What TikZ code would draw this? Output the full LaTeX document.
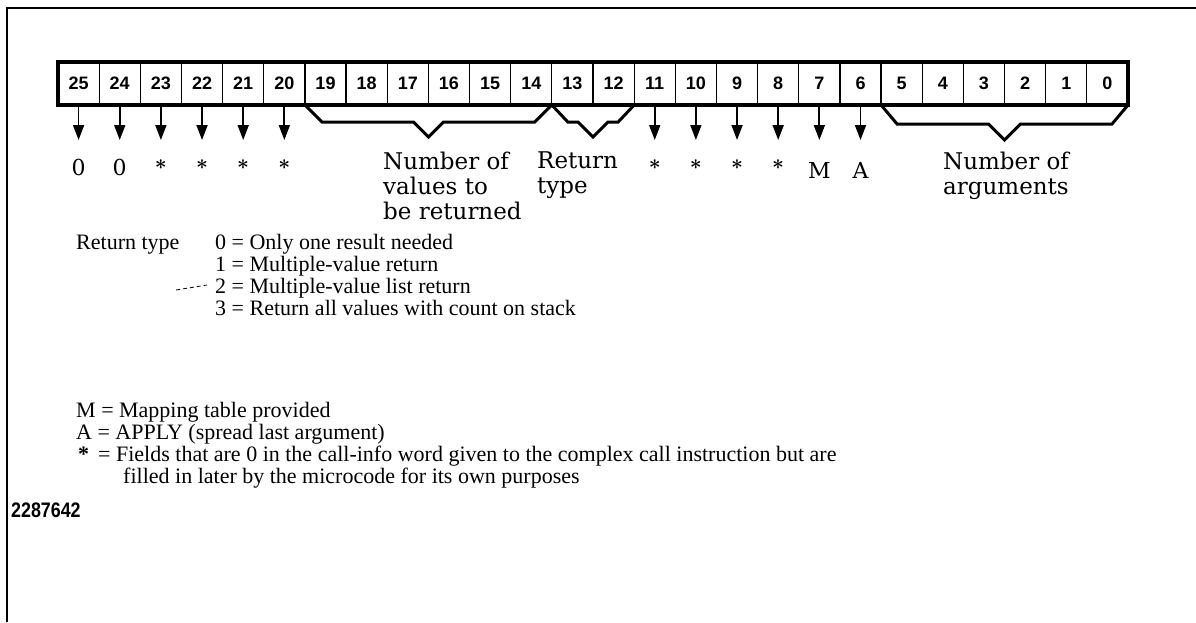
\documentclass[tikz,border=0pt]{standalone}
\usepackage{fontspec}
\setmainfont{Liberation Serif}
\newfontfamily\bitfont{Liberation Sans}
\newfontfamily\fieldfont{DejaVu Serif}
\newfontfamily\codefont{Liberation Sans}[FakeStretch=0.85]
\usetikzlibrary{arrows.meta,calc}

\tikzset{
  cell/.style={draw, line width=1.2pt, minimum width=41.154pt, minimum height=43pt,
    inner sep=0pt, outer sep=0pt, font=\bitfont\bfseries\fontsize{18}{18}\selectfont},
  bitarrow/.style={line width=1.8pt, -{Triangle[width=11pt,length=15pt]}},
  brace/.style={line width=3pt, line join=miter},
  fieldlabel/.style={inner sep=0pt, font=\fieldfont\fontsize{23}{25}\selectfont, align=left},
  bitvalue/.style={inner sep=0pt, font=\fieldfont\fontsize{22}{22}\selectfont},
  bitstar/.style={inner sep=0pt, font=\boldmath\fontsize{21}{21}\selectfont},
  legend/.style={inner sep=0pt, font=\fontsize{22}{22}\selectfont, anchor=base west},
}

\begin{document}
\begin{tikzpicture}[x=1pt, y=-1pt]
\useasboundingbox (0,0) rectangle (1196,622);

% page frame: top rule and left rule
\draw[line width=2pt] (7,622) -- (7,8) -- (1196,8);

% the 26-bit word
\foreach \b in {0,...,25} {
  \node[cell] (c\b) at ({58+(25.5-\b)*41.154},83.5) {\b};
}
\draw[line width=3.5pt] (c25.north west) rectangle (c0.south east);

% single-bit fields
\foreach \b in {25,24,23,22,21,20,11,10,9,8,7,6} {
  \coordinate (t\b) at ($(c\b.south)+(0,35)$);
  \draw[bitarrow] (c\b.south) -- (t\b);
}
\node[bitvalue] (v25) at ($(c25.south)+(0,62)$) {0};
\node[bitvalue] (v24) at ($(c24.south)+(0,62)$) {0};
\foreach \b in {23,22,21,20,11,10,9,8} {
  \node[bitstar] (v\b) at ($(c\b.south)+(0,60)$) {$\ast$};
}
\node[bitvalue] (v7) at ($(c7.south)+(0,65)$) {M};
\node[bitvalue] (v6) at ($(c6.south)+(0,65)$) {A};

% multi-bit fields
\draw[brace] (c19.south west) -- ++(17,17)
  -- ($(c17.south east)+(-15,17)$) -- ($(c17.south east)+(0,32)$)
  -- ($(c17.south east)+(15,17)$) -- ($(c14.south east)+(-17,17)$)
  -- (c14.south east);
\draw[brace] (c13.south west) -- ++(16,17)
  -- ($(c13.south east)+(-15,17)$) -- ($(c13.south east)+(0,32)$)
  -- ($(c13.south east)+(15,17)$) -- ($(c12.south east)+(-16,17)$)
  -- (c12.south east);
\draw[brace] (c5.south west) -- ++(16,19)
  -- ($(c3.south east)+(-16,19)$) -- ($(c3.south east)+(0,35)$)
  -- ($(c3.south east)+(16,19)$) -- ($(c0.south east)+(-16,19)$)
  -- (c0.south east);

\node[fieldlabel, anchor=north west] (nvals) at (383,152) {Number of\\values to\\be returned};
\node[fieldlabel, anchor=north west] (rtype) at (537,152) {Return\\type};
\node[fieldlabel, anchor=north west] (nargs) at (943,152) {Number of\\arguments};

% return type codes
\node[legend] (rtkey) at (76,249) {Return type};
\node[legend] (rt0) at (215,249) {0 = Only one result needed};
\node[legend] (rt1) at (215,271) {1 = Multiple-value return};
\node[legend] (rt2) at (215,293) {2 = Multiple-value list return};
\node[legend] (rt3) at (215,315) {3 = Return all values with count on stack};
\draw[line width=0.8pt, dash pattern=on 4pt off 3pt] (176,290) -- (207,285);

% flag and star meanings
\node[legend] (mkey) at (76,417) {M = Mapping table provided};
\node[legend] (akey) at (76,439) {A = APPLY (spread last argument)};
\node[legend, font=\bfseries\fontsize{22}{22}\selectfont] (skey) at (78,461) {*};
\node[legend] (sdef) at (98,461) {= Fields that are 0 in the call-info word given to the complex call instruction but are};
\node[legend] (sdef2) at (123,483) {filled in later by the microcode for its own purposes};

\node[inner sep=0pt, anchor=base west, font=\codefont\bfseries\fontsize{21}{21}\selectfont] (fig) at (11,517) {2287642};
\end{tikzpicture}
\end{document}
